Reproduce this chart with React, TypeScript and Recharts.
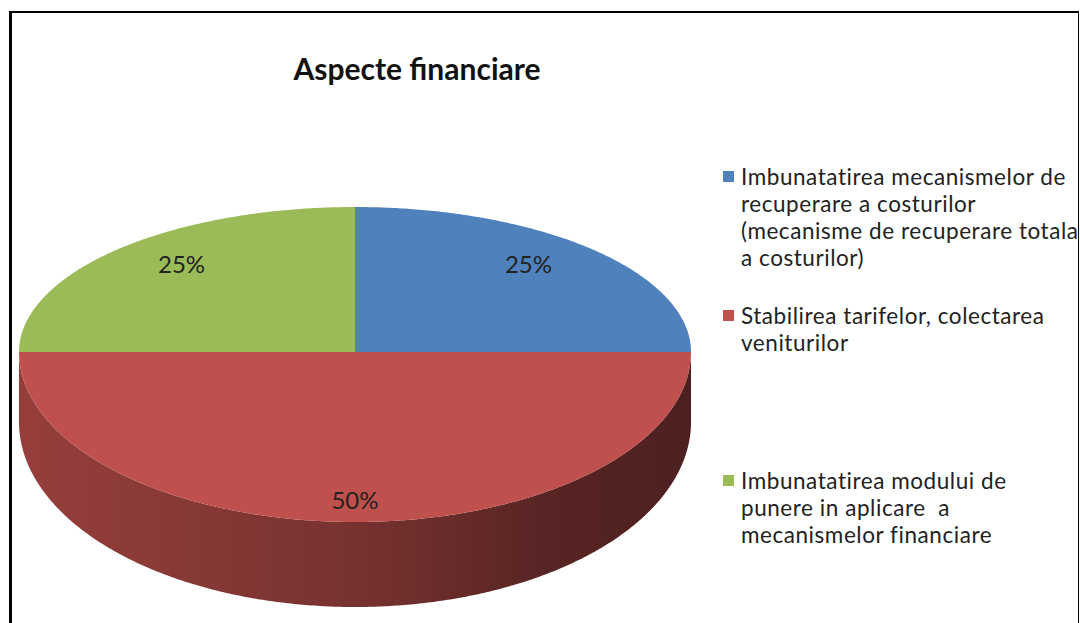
import React from 'react';
import { PieChart, Pie, Cell, Legend } from 'recharts';

const categories = [
  'Imbunatatirea mecanismelor de\nrecuperare a costurilor\n(mecanisme de recuperare totala\na costurilor)',
  'Stabilirea tarifelor, colectarea\nveniturilor',
  'Imbunatatirea modului de\npunere in aplicare  a\nmecanismelor financiare',
];
const values = [25, 50, 25];
const colors = ['#4F81BD', '#C0504D', '#9BBB59'];
const title = 'Aspecte financiare';

const data = categories.map((name, i) => ({ name, value: values[i] }));

// layout constants
const CX = 355;
const CY = 352;
const R = 336;
const RYT_K = 145 / 336;
const RYB_K = 170 / 336;
const DEPTH_K = 70 / 336;
const RYB2_K = 185 / 336;
const legendLineCenters = [176, 315, 480];
const LINE_H = 27;
const FONT = 'Lato, "Open Sans", sans-serif';

function shade(hex: string, k: number) {
  const n = parseInt(hex.replace('#', ''), 16);
  const r = Math.round(((n >> 16) & 255) * k);
  const g = Math.round(((n >> 8) & 255) * k);
  const b = Math.round((n & 255) * k);
  return `rgb(${r},${g},${b})`;
}

function EllipseSector(props: any) {
  const { cx, cy, outerRadius, startAngle, endAngle, fill } = props;
  const RX = outerRadius;
  const RYT = outerRadius * RYT_K;
  const RYB = outerRadius * RYB_K;
  const D = outerRadius * DEPTH_K;
  const RYB2 = outerRadius * RYB2_K;
  const top = (a: number) => {
    const t = (a * Math.PI) / 180;
    const s = Math.sin(t);
    return [cx + RX * Math.cos(t), cy - (s > 0 ? RYT : RYB) * s];
  };
  const bot = (a: number) => {
    const t = (a * Math.PI) / 180;
    const s = Math.sin(t);
    return [cx + RX * Math.cos(t), cy + D - (s > 0 ? 0 : RYB2) * s];
  };
  const arc = (f: (a: number) => number[], a0: number, a1: number) => {
    const n = Math.max(2, Math.ceil(Math.abs(a1 - a0) * 2));
    const pts: string[] = [];
    for (let i = 0; i <= n; i++) {
      const a = a0 + ((a1 - a0) * i) / n;
      const p = f(a);
      pts.push(`${p[0].toFixed(2)},${p[1].toFixed(2)}`);
    }
    return pts;
  };
  const lo = Math.min(startAngle, endAngle);
  const hi = Math.max(startAngle, endAngle);
  const sides: string[] = [];
  for (const [fl, fh] of [[-540, -360], [-180, 0], [180, 360]]) {
    const a = Math.max(lo, fl);
    const b = Math.min(hi, fh);
    if (b - a > 0.01) {
      const p1 = arc(top, a, b);
      const p2 = arc(bot, b, a);
      sides.push('M' + p1.join(' L') + ' L' + p2.join(' L') + ' Z');
    }
  }
  const gid = 'side' + String(fill).replace(/[^a-zA-Z0-9]/g, '');
  const topPath = `M${cx},${cy} L` + arc(top, startAngle, endAngle).join(' L') + ' Z';
  return (
    <g>
      {sides.length > 0 && (
        <defs>
          <linearGradient id={gid} gradientUnits="userSpaceOnUse" x1={cx - RX} y1={0} x2={cx + RX} y2={0}>
            <stop offset="0" stopColor={shade(fill, 0.78)} />
            <stop offset="0.2" stopColor={shade(fill, 0.72)} />
            <stop offset="0.5" stopColor={shade(fill, 0.62)} />
            <stop offset="0.8" stopColor={shade(fill, 0.45)} />
            <stop offset="1" stopColor={shade(fill, 0.4)} />
          </linearGradient>
        </defs>
      )}
      {sides.map((d, i) => (
        <path key={i} d={d} fill={`url(#${gid})`} stroke="none" />
      ))}
      <path d={topPath} fill={fill} stroke="none" />
    </g>
  );
}

function renderLabel(props: any) {
  const { cx, cy, midAngle, outerRadius, percent } = props;
  const t = (midAngle * Math.PI) / 180;
  const s = Math.sin(t);
  const x = cx + outerRadius * 0.73 * Math.cos(t);
  const y = cy - outerRadius * (s > 0 ? 0.86 * RYT_K : 0.87 * RYB_K) * s;
  return (
    <text
      x={x}
      y={y}
      textAnchor="middle"
      dominantBaseline="central"
      fill="#222"
      fontFamily={FONT}
      fontSize={24}
    >
      {`${Math.round(percent * 100)}%`}
    </text>
  );
}

function renderLegend(props: any) {
  const payload = [...(props.payload || [])].sort(
    (a: any, b: any) => categories.indexOf(a.value) - categories.indexOf(b.value)
  );
  return (
    <div style={{ position: 'relative', width: 1080, height: 623 }}>
      {payload.map((item: any, i: number) => (
        <div
          key={i}
          style={{
            position: 'absolute',
            left: 741,
            top: legendLineCenters[i] - LINE_H / 2,
            whiteSpace: 'pre',
            fontFamily: FONT,
            fontSize: 22.5,
            letterSpacing: 0.55,
            lineHeight: `${LINE_H}px`,
            color: '#222',
            textAlign: 'left',
          }}
        >
          <span
            style={{
              position: 'absolute',
              left: -18,
              top: LINE_H / 2 - 5,
              width: 11,
              height: 11,
              background: item.color,
            }}
          />
          {item.value}
        </div>
      ))}
    </div>
  );
}

export default function App() {
  return (
    <div
      style={{
        position: 'absolute',
        left: 0,
        top: 0,
        width: 1080,
        height: 623,
        background: '#fff',
        overflow: 'hidden',
      }}
    >
      <div
        style={{
          position: 'absolute',
          left: 9,
          top: 11,
          width: 1066,
          height: 700,
          borderLeft: '3px solid #000',
          borderTop: '2px solid #000',
          borderRight: '1px solid #000',
        }}
      />
      <div
        style={{
          position: 'absolute',
          left: 0,
          width: 834,
          top: 50,
          textAlign: 'center',
          fontFamily: FONT,
          fontWeight: 700,
          fontSize: 30,
          color: '#111',
          lineHeight: '36px',
        }}
      >
        {title}
      </div>
      <div style={{ position: 'absolute', left: 0, top: 0 }}>
        <PieChart width={1080} height={623} margin={{ top: 0, right: 0, bottom: 0, left: 0 }}>
          <Pie
            data={data}
            dataKey="value"
            nameKey="name"
            cx={CX}
            cy={CY}
            outerRadius={R}
            startAngle={90}
            endAngle={-270}
            stroke="none"
            shape={EllipseSector}
            activeShape={EllipseSector}
            inactiveShape={EllipseSector}
            label={renderLabel}
            labelLine={false}
            isAnimationActive={false}
          >
            {data.map((d, i) => (
              <Cell key={d.name} fill={colors[i]} />
            ))}
          </Pie>
          <Legend
            content={renderLegend}
            wrapperStyle={{ position: 'absolute', left: 0, top: 0, width: 1080, height: 623 }}
          />
        </PieChart>
      </div>
    </div>
  );
}
